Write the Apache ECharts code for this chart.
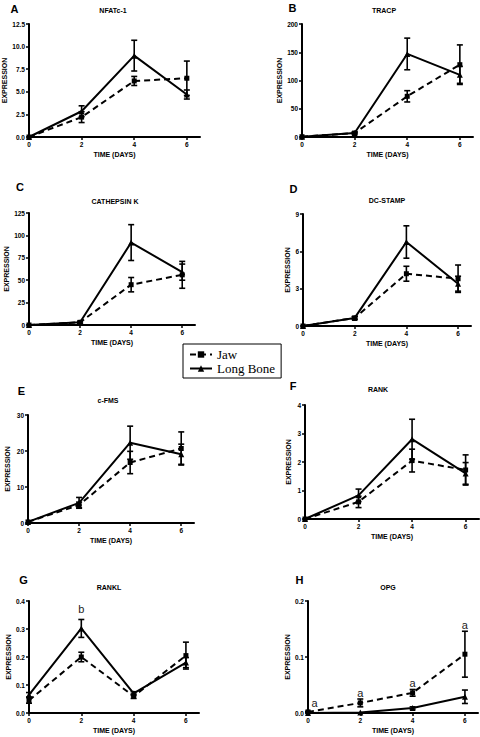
<!DOCTYPE html>
<html><head><meta charset="utf-8">
<script src="https://cdn.jsdelivr.net/npm/echarts@6/dist/echarts.min.js"></script>
<style>html,body{margin:0;padding:0;background:#fff}#c{width:480px;height:737px}</style>
</head><body><div id="c"></div>
<script>
// ---------- DATA ----------
const days = [0, 2, 4, 6];
const xTickValues = [0, 2, 4, 6];
const seriesNames = ['Jaw', 'Long Bone'];
const panelLetters = ['A', 'B', 'C', 'D', 'E', 'F', 'G', 'H'];
const panelTitles = ['NFATc-1', 'TRACP', 'CATHEPSIN K', 'DC-STAMP', 'c-FMS', 'RANK', 'RANKL', 'OPG'];
const xAxisTitle = 'TIME (DAYS)';
const yAxisTitle = 'EXPRESSION';

// A NFATc-1
const jawA = [0, 2.2, 6.2, 6.5];
const jawAErr = [0, 0.6, 0.5, 1.9];
const longA = [0, 2.85, 9.0, 4.7];
const longAErr = [0, 0.6, 1.7, 0.5];
// B TRACP
const jawB = [0.5, 7, 72, 128];
const jawBErr = [0, 1.5, 10, 35];
const longB = [0.5, 7, 147, 110];
const longBErr = [0, 1.5, 28, 15];
// C CATHEPSIN K
const jawC = [0, 3, 45, 56];
const jawCErr = [0, 1, 8, 15];
const longC = [0, 3, 92, 59];
const longCErr = [0, 1, 20, 9];
// D DC-STAMP
const jawD = [0, 0.65, 4.2, 3.8];
const jawDErr = [0, 0.1, 0.6, 1.1];
const longD = [0, 0.65, 6.75, 3.4];
const longDErr = [0, 0.1, 1.3, 0.6];
// E c-FMS
const jawE = [0.3, 5.0, 16.8, 20.7];
const jawEErr = [0, 0.8, 3.1, 4.6];
const longE = [0.3, 5.6, 22.3, 19.1];
const longEErr = [0, 1.5, 4.6, 2.8];
// F RANK
const jawF = [0, 0.6, 2.05, 1.72];
const jawFErr = [0, 0.2, 0.4, 0.53];
const longF = [0, 0.83, 2.8, 1.6];
const longFErr = [0, 0.22, 0.7, 0.38];
// G RANKL
const jawG = [0.045, 0.2, 0.06, 0.205];
const jawGErr = [0.01, 0.017, 0.008, 0.048];
const longG = [0.065, 0.302, 0.07, 0.18];
const longGErr = [0.008, 0.032, 0.006, 0.018];
// H OPG
const jawH = [0.002, 0.018, 0.036, 0.105];
const jawHErr = [0.001, 0.007, 0.006, 0.041];
const longH = [0, 0.001, 0.009, 0.029];
const longHErr = [0, 0, 0.002, 0.012];

// axis ticks
const yMaxes = [12.5, 200, 125, 9, 30, 4, 0.4, 0.2];
const ySteps = [2.5, 50, 25, 3, 10, 1, 0.1, 0.1];
const yDecimals = [1, 0, 0, 0, 0, 0, 1, 1];

// significance annotations
const annGX = [2], annGY = [0.37], annGText = ['b'];
const annHX = [0.25, 2, 4, 6], annHY = [0.017, 0.035, 0.054, 0.158], annHText = ['a', 'a', 'a', 'a'];

const jawVals = [jawA, jawB, jawC, jawD, jawE, jawF, jawG, jawH];
const jawErrs = [jawAErr, jawBErr, jawCErr, jawDErr, jawEErr, jawFErr, jawGErr, jawHErr];
const longVals = [longA, longB, longC, longD, longE, longF, longG, longH];
const longErrs = [longAErr, longBErr, longCErr, longDErr, longEErr, longFErr, longGErr, longHErr];

// ---------- LAYOUT ----------
const grids = [
  {left: 29, top: 24, width: 171, height: 113},
  {left: 302, top: 24, width: 171, height: 113},
  {left: 29, top: 213, width: 166, height: 112},
  {left: 303, top: 214, width: 168, height: 112},
  {left: 28, top: 415, width: 166, height: 108},
  {left: 305, top: 405, width: 174, height: 114},
  {left: 29, top: 601, width: 170, height: 112},
  {left: 308, top: 601, width: 170, height: 112}
];
const yNameGaps = [20, 10, 18, 11, 17, 13, 16, 16];
const letterPos = [[14.5, 8.5], [292.5, 8], [20, 187], [293.5, 189], [21.5, 391], [293, 386], [23.5, 580], [299.5, 580]];
const titlePos = [[113, 10], [384, 10], [115, 201.5], [387, 200], [108, 400], [378, 389], [109, 587], [388, 587]];

const SANS = '"Liberation Sans", Arial, sans-serif';
const axisFont = {fontFamily: SANS, fontWeight: 'bold', fontSize: 6.5, color: '#000'};

function errRender(params, api) {
  const x = api.value(0), y = api.value(1), e = api.value(2);
  if (!(e > 0)) return null;
  const t = api.coord([x, y + e]), b = api.coord([x, y - e]);
  const w = 3;
  const st = {stroke: '#000', lineWidth: 1.6};
  return {type: 'group', children: [
    {type: 'line', shape: {x1: t[0], y1: t[1], x2: b[0], y2: b[1]}, style: st},
    {type: 'line', shape: {x1: t[0] - w, y1: t[1], x2: t[0] + w, y2: t[1]}, style: st},
    {type: 'line', shape: {x1: b[0] - w, y1: b[1], x2: b[0] + w, y2: b[1]}, style: st}
  ]};
}
function annRender(params, api) {
  const p = api.coord([api.value(0), api.value(1)]);
  return {type: 'text', x: p[0], y: p[1], style: {
    text: api.value(2), textAlign: 'center', textVerticalAlign: 'middle',
    font: 'normal 11px ' + SANS, fill: '#222'}};
}

const option = {
  backgroundColor: '#fff',
  animation: false,
  grid: [], xAxis: [], yAxis: [], series: [], graphic: [],
  legend: {
    data: seriesNames, orient: 'vertical', left: 183, top: 344,
    padding: [4, 6, 3, 6], itemGap: 1, itemWidth: 22, itemHeight: 8,
    borderColor: '#000', borderWidth: 1, backgroundColor: '#fff',
    textStyle: {fontFamily: '"Liberation Serif", "Times New Roman", serif', fontSize: 13, color: '#000'},
    selectedMode: false
  }
};

for (let i = 0; i < 8; i++) {
  option.grid.push(Object.assign({containLabel: false}, grids[i]));
  option.xAxis.push({
    type: 'value', gridIndex: i, min: 0, max: 6.5,
    name: xAxisTitle, nameLocation: 'middle', nameGap: 14,
    nameTextStyle: {fontFamily: SANS, fontWeight: 'bold', fontSize: 7, color: '#000'},
    axisLine: {show: true, lineStyle: {color: '#000', width: 2}},
    axisTick: {show: true, length: 3, lineStyle: {color: '#000', width: 1.5}, customValues: xTickValues},
    axisLabel: Object.assign({margin: 4, customValues: xTickValues}, axisFont),
    splitLine: {show: false}
  });
  const dec = yDecimals[i];
  option.yAxis.push({
    type: 'value', gridIndex: i, min: 0, max: yMaxes[i], interval: ySteps[i],
    name: yAxisTitle, nameLocation: 'middle', nameGap: yNameGaps[i],
    nameTextStyle: {fontFamily: SANS, fontWeight: 'bold', fontSize: 7, color: '#000'},
    axisLine: {show: true, lineStyle: {color: '#000', width: 2}},
    axisTick: {show: true, length: 3, lineStyle: {color: '#000', width: 1.5}},
    axisLabel: Object.assign({margin: 4, formatter: v => v.toFixed(dec)}, axisFont),
    splitLine: {show: false}
  });
  const jawData = days.map((d, k) => [d, jawVals[i][k]]);
  const longData = days.map((d, k) => [d, longVals[i][k]]);
  option.series.push({
    type: 'custom', name: 'jawErr', xAxisIndex: i, yAxisIndex: i, z: 2,
    renderItem: errRender, encode: {x: 0, y: 1},
    data: days.map((d, k) => [d, jawVals[i][k], jawErrs[i][k]])
  });
  option.series.push({
    type: 'custom', name: 'longErr', xAxisIndex: i, yAxisIndex: i, z: 2,
    renderItem: errRender, encode: {x: 0, y: 1},
    data: days.map((d, k) => [d, longVals[i][k], longErrs[i][k]])
  });
  option.series.push({
    type: 'line', name: 'Jaw', xAxisIndex: i, yAxisIndex: i, z: 3,
    data: jawData, symbol: 'rect', symbolSize: 5, showAllSymbol: true,
    lineStyle: {color: '#000', width: 2, type: [6, 4]},
    itemStyle: {color: '#000'}
  });
  option.series.push({
    type: 'line', name: 'Long Bone', xAxisIndex: i, yAxisIndex: i, z: 4,
    data: longData, symbol: 'triangle', symbolSize: 6, showAllSymbol: true,
    lineStyle: {color: '#000', width: 2, type: 'solid'},
    itemStyle: {color: '#000'}
  });
  option.graphic.push({
    type: 'text', x: letterPos[i][0], y: letterPos[i][1],
    style: {text: panelLetters[i], textAlign: 'center', textVerticalAlign: 'middle',
      font: 'bold 11px ' + SANS, fill: '#000'}
  });
  option.graphic.push({
    type: 'text', x: titlePos[i][0], y: titlePos[i][1],
    style: {text: panelTitles[i], textAlign: 'center', textVerticalAlign: 'middle',
      font: 'bold 7px ' + SANS, fill: '#000'}
  });
}
option.series.push({
  type: 'custom', xAxisIndex: 6, yAxisIndex: 6, z: 5, renderItem: annRender, encode: {x: 0, y: 1},
  data: annGX.map((x, k) => [x, annGY[k], annGText[k]])
});
option.series.push({
  type: 'custom', xAxisIndex: 7, yAxisIndex: 7, z: 5, renderItem: annRender, encode: {x: 0, y: 1},
  data: annHX.map((x, k) => [x, annHY[k], annHText[k]])
});

const chart = echarts.init(document.getElementById('c'), null, {renderer: 'svg'});
chart.setOption(option);
</script>
</body></html>
